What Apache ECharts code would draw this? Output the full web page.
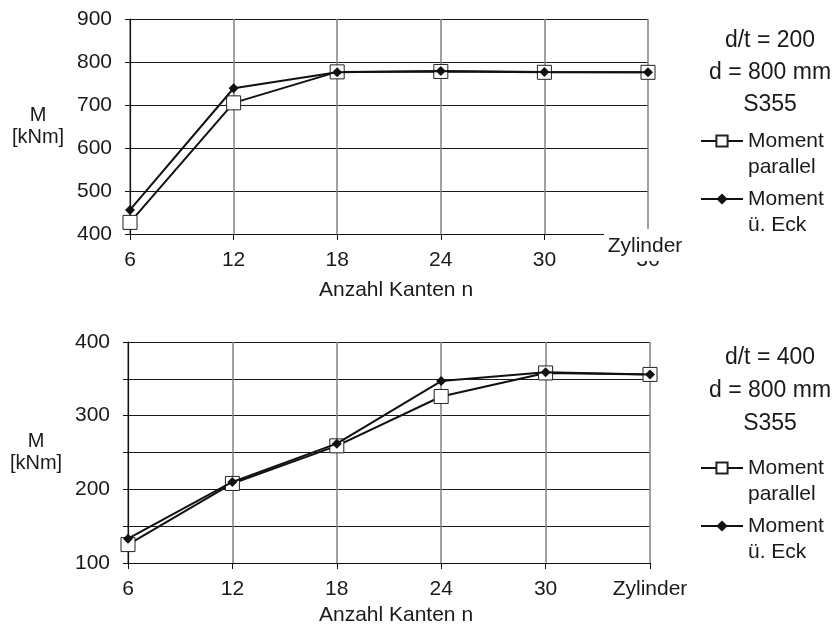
<!DOCTYPE html>
<html>
<head>
<meta charset="utf-8">
<script src="https://cdn.jsdelivr.net/npm/echarts@6/dist/echarts.min.js"></script>
<style>
html,body{margin:0;padding:0;background:#fff;}
#c{width:834px;height:628px;}
</style>
</head>
<body>
<div id="c"></div>
<script>
// ---- data ----
var catsTop = ['6', '12', '18', '24', '30', '36'];
var catsBottom = ['6', '12', '18', '24', '30', 'Zylinder'];
var parallelTop = [427, 705, 777, 778, 776, 776];
var eckTop = [456, 739, 776, 779, 777, 776];
var parallelBottom = [125, 208, 259, 326, 358, 356];
var eckBottom = [133, 210, 262, 347, 359, 356];
var infoTop = ['d/t = 200', 'd = 800 mm', 'S355'];
var infoBottom = ['d/t = 400', 'd = 800 mm', 'S355'];
var seriesNames = ['Moment parallel', 'Moment ü. Eck'];
var legendLabels = { 'Moment parallel': '\nMoment\nparallel', 'Moment ü. Eck': '\nMoment\nü. Eck' };

var FONT = '"Liberation Sans", Arial, sans-serif';
var chart = echarts.init(document.getElementById('c'), null, { renderer: 'canvas' });

function xAxisCfg(gi, cats, nameGap) {
  return {
    type: 'category', gridIndex: gi, data: cats, boundaryGap: false,
    name: 'Anzahl Kanten n', nameLocation: 'middle', nameGap: nameGap,
    nameTextStyle: { fontFamily: FONT, fontSize: 21, color: '#1a1a1a', padding: [0, 0, 0, 14] },
    axisLine: { lineStyle: { color: '#111', width: 1.2 } },
    axisTick: { show: true, alignWithLabel: true, length: 6, lineStyle: { color: '#111' } },
    axisLabel: { fontFamily: FONT, fontSize: 21, color: '#1a1a1a', margin: 16, interval: 0 },
    splitLine: { show: true, lineStyle: { color: '#808080', width: 1.5 } }
  };
}
function yAxisCfg(gi, min, max, interval, step) {
  return {
    type: 'value', gridIndex: gi, min: min, max: max, interval: interval,
    name: 'M\n[kNm]', nameLocation: 'middle', nameGap: 92, nameRotate: 0,
    nameTextStyle: { fontFamily: FONT, fontSize: 20, color: '#1a1a1a', align: 'center', lineHeight: 22 },
    axisLine: { show: true, lineStyle: { color: '#111', width: 1.2 } },
    axisTick: { show: true, length: 5, lineStyle: { color: '#111' } },
    axisLabel: {
      fontFamily: FONT, fontSize: 21, color: '#1a1a1a', margin: 18,
      formatter: function (v) { return (v % step === 0) ? String(v) : ''; }
    },
    splitLine: { show: true, lineStyle: { color: '#1a1a1a', width: 1 } }
  };
}
function seriesPair(gi, par, eck) {
  return [
    {
      name: seriesNames[0], type: 'line', xAxisIndex: gi, yAxisIndex: gi, data: par,
      symbol: 'rect', symbolSize: 14, showAllSymbol: true,
      lineStyle: { color: '#111', width: 2 },
      itemStyle: { color: '#fff', borderColor: '#222', borderWidth: 1 },
      z: 3, animation: false
    },
    {
      name: seriesNames[1], type: 'line', xAxisIndex: gi, yAxisIndex: gi, data: eck,
      symbol: 'diamond', symbolSize: 10, showAllSymbol: true,
      lineStyle: { color: '#111', width: 2 },
      itemStyle: { color: '#111', borderColor: '#111', borderWidth: 0 },
      z: 4, animation: false
    }
  ];
}
function legendCfg(top) {
  return {
    orient: 'vertical', left: 700, top: top, padding: 0, itemGap: -20,
    itemWidth: 42, itemHeight: 14, data: seriesNames,
    formatter: function (n) { return legendLabels[n]; },
    textStyle: { fontFamily: FONT, fontSize: 21, color: '#1a1a1a', lineHeight: 26 },
    selectedMode: false
  };
}
function infoText(lines, ys) {
  return lines.map(function (t, i) {
    return {
      type: 'text', x: 770, y: ys[i],
      style: { text: t, fontFamily: FONT, fontSize: 23, fill: '#1a1a1a', textAlign: 'center', textVerticalAlign: 'middle' }
    };
  });
}

var graphics = []
  .concat(infoText(infoTop, [41, 73, 105]))
  .concat(infoText(infoBottom, [358, 391, 424]));
graphics.push(
  { type: 'rect', z: 100, shape: { x: 604, y: 229, width: 84, height: 32 }, style: { fill: '#fff' } },
  { type: 'text', z: 101, x: 645, y: 246, style: { text: catsBottom[5], fontFamily: FONT, fontSize: 21, fill: '#1a1a1a', textAlign: 'center', textVerticalAlign: 'middle' } }
);

chart.setOption({
  animation: false,
  backgroundColor: '#fff',
  grid: [
    { left: 130, right: 186, top: 19, height: 215 },
    { left: 128, right: 184, top: 342, height: 221 }
  ],
  xAxis: [xAxisCfg(0, catsTop, 46), xAxisCfg(1, catsBottom, 42)],
  yAxis: [yAxisCfg(0, 400, 900, 100, 100), yAxisCfg(1, 100, 400, 50, 100)],
  legend: [legendCfg(102), legendCfg(429)],
  series: seriesPair(0, parallelTop, eckTop).concat(seriesPair(1, parallelBottom, eckBottom)),
  graphic: graphics
});
</script>
</body>
</html>
